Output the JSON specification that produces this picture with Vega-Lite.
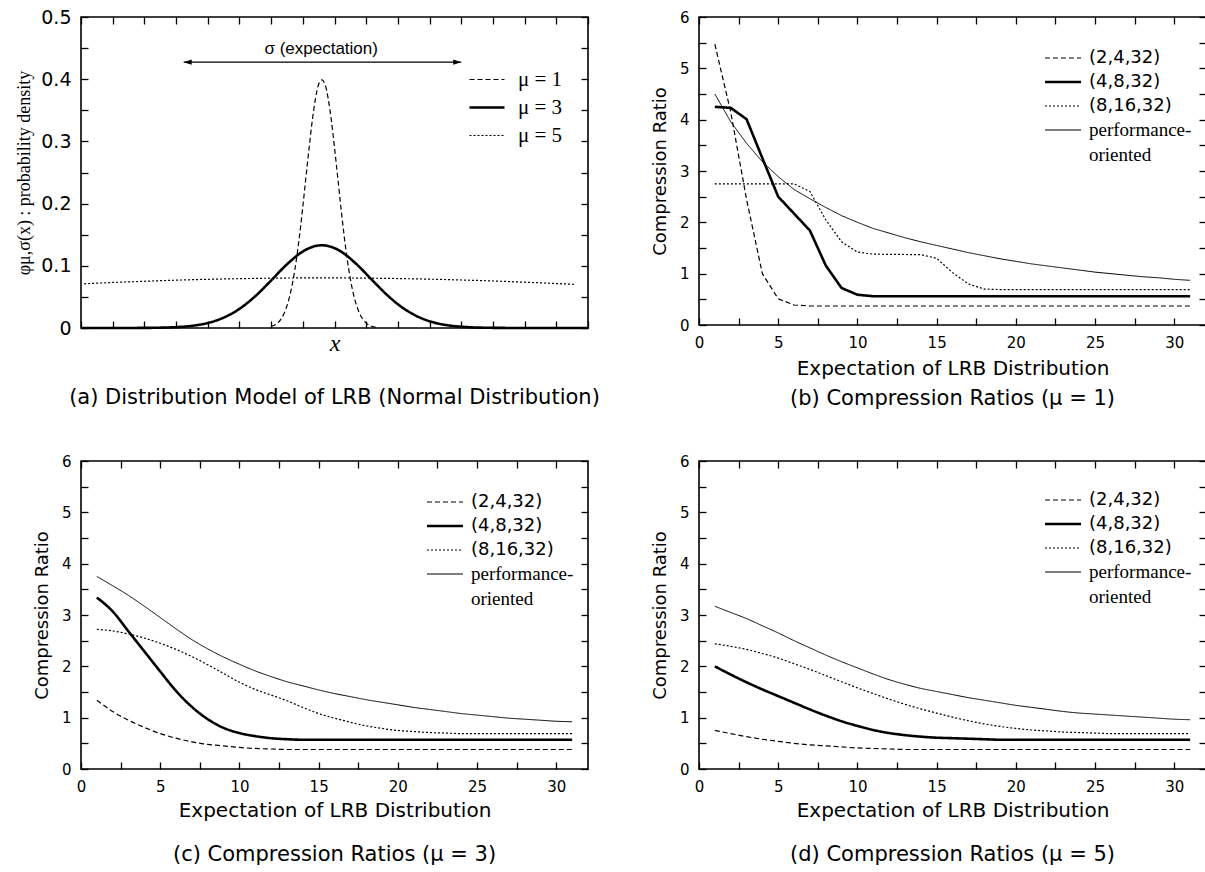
{
  "$schema": "https://vega.github.io/schema/vega-lite/v6.json",
  "background": "white",
  "padding": {"left": 14, "top": 7, "right": 2, "bottom": 2},
  "autosize": {"type": "pad"},
  "config": {
    "font": "DejaVu Sans",
    "view": {"stroke": "#000000", "strokeWidth": 1.6},
    "axis": {
      "domain": false, "grid": false, "tickSize": -7, "tickColor": "#000000", "tickWidth": 1.3, "zindex": 1,
      "labelColor": "#000000", "labelFont": "DejaVu Sans", "labelFontSize": 15, "labelPadding": 17,
      "labelFlush": false, "labelOverlap": false,
      "titleColor": "#000000", "titleFont": "DejaVu Sans", "titleFontWeight": "normal", "titleFontSize": 20
    },
    "legend": {"padding": 0, "labelColor": "#000000"},
    "title": {"font": "DejaVu Sans", "fontSize": 21, "fontWeight": "normal", "color": "#000000", "anchor": "middle"}
  },
  "datasets": {
    "pdf": [
      {"curve": "μ = 1", "x": 6.0, "density": 0.0024},
      {"curve": "μ = 1", "x": 6.1, "density": 0.0044},
      {"curve": "μ = 1", "x": 6.2, "density": 0.0079},
      {"curve": "μ = 1", "x": 6.3, "density": 0.0136},
      {"curve": "μ = 1", "x": 6.4, "density": 0.0225},
      {"curve": "μ = 1", "x": 6.5, "density": 0.0356},
      {"curve": "μ = 1", "x": 6.6, "density": 0.054},
      {"curve": "μ = 1", "x": 6.7, "density": 0.079},
      {"curve": "μ = 1", "x": 6.8, "density": 0.111},
      {"curve": "μ = 1", "x": 6.9, "density": 0.150},
      {"curve": "μ = 1", "x": 7.0, "density": 0.195},
      {"curve": "μ = 1", "x": 7.1, "density": 0.243},
      {"curve": "μ = 1", "x": 7.2, "density": 0.290},
      {"curve": "μ = 1", "x": 7.3, "density": 0.334},
      {"curve": "μ = 1", "x": 7.4, "density": 0.369},
      {"curve": "μ = 1", "x": 7.5, "density": 0.392},
      {"curve": "μ = 1", "x": 7.6, "density": 0.399},
      {"curve": "μ = 1", "x": 7.7, "density": 0.392},
      {"curve": "μ = 1", "x": 7.8, "density": 0.369},
      {"curve": "μ = 1", "x": 7.9, "density": 0.334},
      {"curve": "μ = 1", "x": 8.0, "density": 0.290},
      {"curve": "μ = 1", "x": 8.1, "density": 0.243},
      {"curve": "μ = 1", "x": 8.2, "density": 0.195},
      {"curve": "μ = 1", "x": 8.3, "density": 0.150},
      {"curve": "μ = 1", "x": 8.4, "density": 0.111},
      {"curve": "μ = 1", "x": 8.5, "density": 0.079},
      {"curve": "μ = 1", "x": 8.6, "density": 0.054},
      {"curve": "μ = 1", "x": 8.7, "density": 0.0356},
      {"curve": "μ = 1", "x": 8.8, "density": 0.0225},
      {"curve": "μ = 1", "x": 8.9, "density": 0.0136},
      {"curve": "μ = 1", "x": 9.0, "density": 0.0079},
      {"curve": "μ = 1", "x": 9.1, "density": 0.0044},
      {"curve": "μ = 1", "x": 9.2, "density": 0.0024},
      {"curve": "μ = 1", "x": 9.3, "density": 0.0012},
      {"curve": "μ = 3", "x": 0, "density": 0},
      {"curve": "μ = 3", "x": 1, "density": 0},
      {"curve": "μ = 3", "x": 2, "density": 0.0002},
      {"curve": "μ = 3", "x": 2.5, "density": 0.0005},
      {"curve": "μ = 3", "x": 3, "density": 0.0014},
      {"curve": "μ = 3", "x": 3.5, "density": 0.0035},
      {"curve": "μ = 3", "x": 4, "density": 0.008},
      {"curve": "μ = 3", "x": 4.5, "density": 0.0166},
      {"curve": "μ = 3", "x": 5, "density": 0.0308},
      {"curve": "μ = 3", "x": 5.5, "density": 0.0512},
      {"curve": "μ = 3", "x": 6, "density": 0.0764},
      {"curve": "μ = 3", "x": 6.5, "density": 0.1024},
      {"curve": "μ = 3", "x": 7, "density": 0.123},
      {"curve": "μ = 3", "x": 7.3, "density": 0.1304},
      {"curve": "μ = 3", "x": 7.6, "density": 0.133},
      {"curve": "μ = 3", "x": 7.9, "density": 0.1304},
      {"curve": "μ = 3", "x": 8.2, "density": 0.123},
      {"curve": "μ = 3", "x": 8.7, "density": 0.1024},
      {"curve": "μ = 3", "x": 9.2, "density": 0.0764},
      {"curve": "μ = 3", "x": 9.7, "density": 0.0512},
      {"curve": "μ = 3", "x": 10.2, "density": 0.0308},
      {"curve": "μ = 3", "x": 10.7, "density": 0.0166},
      {"curve": "μ = 3", "x": 11.2, "density": 0.008},
      {"curve": "μ = 3", "x": 11.7, "density": 0.0035},
      {"curve": "μ = 3", "x": 12.2, "density": 0.0014},
      {"curve": "μ = 3", "x": 12.7, "density": 0.0005},
      {"curve": "μ = 3", "x": 13.2, "density": 0.0002},
      {"curve": "μ = 3", "x": 14, "density": 0},
      {"curve": "μ = 3", "x": 16, "density": 0},
      {"curve": "μ = 5", "x": 0.1, "density": 0.0711},
      {"curve": "μ = 5", "x": 1, "density": 0.0732},
      {"curve": "μ = 5", "x": 2, "density": 0.0751},
      {"curve": "μ = 5", "x": 3, "density": 0.0769},
      {"curve": "μ = 5", "x": 4, "density": 0.0783},
      {"curve": "μ = 5", "x": 5, "density": 0.0793},
      {"curve": "μ = 5", "x": 6, "density": 0.0801},
      {"curve": "μ = 5", "x": 7, "density": 0.0805},
      {"curve": "μ = 5", "x": 7.6, "density": 0.0806},
      {"curve": "μ = 5", "x": 8, "density": 0.0805},
      {"curve": "μ = 5", "x": 9, "density": 0.0802},
      {"curve": "μ = 5", "x": 10, "density": 0.0795},
      {"curve": "μ = 5", "x": 11, "density": 0.0785},
      {"curve": "μ = 5", "x": 12, "density": 0.0772},
      {"curve": "μ = 5", "x": 13, "density": 0.0756},
      {"curve": "μ = 5", "x": 14, "density": 0.0736},
      {"curve": "μ = 5", "x": 15, "density": 0.0715},
      {"curve": "μ = 5", "x": 15.6, "density": 0.0701}
    ],
    "ratios": [
      {"mu": 1, "scheme": "(2,4,32)", "lrb": 1, "ratio": 5.47},
      {"mu": 1, "scheme": "(2,4,32)", "lrb": 2, "ratio": 4.15},
      {"mu": 1, "scheme": "(2,4,32)", "lrb": 3, "ratio": 2.45},
      {"mu": 1, "scheme": "(2,4,32)", "lrb": 4, "ratio": 1.0},
      {"mu": 1, "scheme": "(2,4,32)", "lrb": 5, "ratio": 0.51},
      {"mu": 1, "scheme": "(2,4,32)", "lrb": 6, "ratio": 0.39},
      {"mu": 1, "scheme": "(2,4,32)", "lrb": 7, "ratio": 0.37},
      {"mu": 1, "scheme": "(2,4,32)", "lrb": 31, "ratio": 0.37},
      {"mu": 1, "scheme": "(4,8,32)", "lrb": 1, "ratio": 4.25},
      {"mu": 1, "scheme": "(4,8,32)", "lrb": 2, "ratio": 4.23},
      {"mu": 1, "scheme": "(4,8,32)", "lrb": 3, "ratio": 4.01},
      {"mu": 1, "scheme": "(4,8,32)", "lrb": 4, "ratio": 3.25},
      {"mu": 1, "scheme": "(4,8,32)", "lrb": 5, "ratio": 2.5},
      {"mu": 1, "scheme": "(4,8,32)", "lrb": 6, "ratio": 2.17},
      {"mu": 1, "scheme": "(4,8,32)", "lrb": 7, "ratio": 1.84},
      {"mu": 1, "scheme": "(4,8,32)", "lrb": 8, "ratio": 1.16},
      {"mu": 1, "scheme": "(4,8,32)", "lrb": 9, "ratio": 0.72},
      {"mu": 1, "scheme": "(4,8,32)", "lrb": 10, "ratio": 0.59},
      {"mu": 1, "scheme": "(4,8,32)", "lrb": 11, "ratio": 0.56},
      {"mu": 1, "scheme": "(4,8,32)", "lrb": 31, "ratio": 0.56},
      {"mu": 1, "scheme": "(8,16,32)", "lrb": 1, "ratio": 2.75},
      {"mu": 1, "scheme": "(8,16,32)", "lrb": 6, "ratio": 2.75},
      {"mu": 1, "scheme": "(8,16,32)", "lrb": 7, "ratio": 2.6},
      {"mu": 1, "scheme": "(8,16,32)", "lrb": 8, "ratio": 2.05},
      {"mu": 1, "scheme": "(8,16,32)", "lrb": 9, "ratio": 1.62},
      {"mu": 1, "scheme": "(8,16,32)", "lrb": 10, "ratio": 1.42},
      {"mu": 1, "scheme": "(8,16,32)", "lrb": 11, "ratio": 1.38},
      {"mu": 1, "scheme": "(8,16,32)", "lrb": 14, "ratio": 1.37},
      {"mu": 1, "scheme": "(8,16,32)", "lrb": 15, "ratio": 1.3},
      {"mu": 1, "scheme": "(8,16,32)", "lrb": 16, "ratio": 1.02},
      {"mu": 1, "scheme": "(8,16,32)", "lrb": 17, "ratio": 0.8},
      {"mu": 1, "scheme": "(8,16,32)", "lrb": 18, "ratio": 0.7},
      {"mu": 1, "scheme": "(8,16,32)", "lrb": 19, "ratio": 0.69},
      {"mu": 1, "scheme": "(8,16,32)", "lrb": 31, "ratio": 0.69},
      {"mu": 1, "scheme": "performance-oriented", "lrb": 1, "ratio": 4.5},
      {"mu": 1, "scheme": "performance-oriented", "lrb": 2, "ratio": 3.96},
      {"mu": 1, "scheme": "performance-oriented", "lrb": 3, "ratio": 3.54},
      {"mu": 1, "scheme": "performance-oriented", "lrb": 4, "ratio": 3.18},
      {"mu": 1, "scheme": "performance-oriented", "lrb": 5, "ratio": 2.89},
      {"mu": 1, "scheme": "performance-oriented", "lrb": 6, "ratio": 2.64},
      {"mu": 1, "scheme": "performance-oriented", "lrb": 7, "ratio": 2.46},
      {"mu": 1, "scheme": "performance-oriented", "lrb": 8, "ratio": 2.29},
      {"mu": 1, "scheme": "performance-oriented", "lrb": 9, "ratio": 2.13},
      {"mu": 1, "scheme": "performance-oriented", "lrb": 10, "ratio": 2.0},
      {"mu": 1, "scheme": "performance-oriented", "lrb": 11, "ratio": 1.88},
      {"mu": 1, "scheme": "performance-oriented", "lrb": 12, "ratio": 1.79},
      {"mu": 1, "scheme": "performance-oriented", "lrb": 13, "ratio": 1.7},
      {"mu": 1, "scheme": "performance-oriented", "lrb": 14, "ratio": 1.62},
      {"mu": 1, "scheme": "performance-oriented", "lrb": 15, "ratio": 1.55},
      {"mu": 1, "scheme": "performance-oriented", "lrb": 16, "ratio": 1.48},
      {"mu": 1, "scheme": "performance-oriented", "lrb": 17, "ratio": 1.41},
      {"mu": 1, "scheme": "performance-oriented", "lrb": 18, "ratio": 1.35},
      {"mu": 1, "scheme": "performance-oriented", "lrb": 19, "ratio": 1.29},
      {"mu": 1, "scheme": "performance-oriented", "lrb": 20, "ratio": 1.24},
      {"mu": 1, "scheme": "performance-oriented", "lrb": 21, "ratio": 1.19},
      {"mu": 1, "scheme": "performance-oriented", "lrb": 22, "ratio": 1.15},
      {"mu": 1, "scheme": "performance-oriented", "lrb": 23, "ratio": 1.11},
      {"mu": 1, "scheme": "performance-oriented", "lrb": 24, "ratio": 1.07},
      {"mu": 1, "scheme": "performance-oriented", "lrb": 25, "ratio": 1.03},
      {"mu": 1, "scheme": "performance-oriented", "lrb": 26, "ratio": 1.0},
      {"mu": 1, "scheme": "performance-oriented", "lrb": 27, "ratio": 0.97},
      {"mu": 1, "scheme": "performance-oriented", "lrb": 28, "ratio": 0.94},
      {"mu": 1, "scheme": "performance-oriented", "lrb": 29, "ratio": 0.92},
      {"mu": 1, "scheme": "performance-oriented", "lrb": 30, "ratio": 0.89},
      {"mu": 1, "scheme": "performance-oriented", "lrb": 31, "ratio": 0.87},

      {"mu": 3, "scheme": "(2,4,32)", "lrb": 1, "ratio": 1.34},
      {"mu": 3, "scheme": "(2,4,32)", "lrb": 2, "ratio": 1.12},
      {"mu": 3, "scheme": "(2,4,32)", "lrb": 3, "ratio": 0.95},
      {"mu": 3, "scheme": "(2,4,32)", "lrb": 4, "ratio": 0.81},
      {"mu": 3, "scheme": "(2,4,32)", "lrb": 5, "ratio": 0.69},
      {"mu": 3, "scheme": "(2,4,32)", "lrb": 6, "ratio": 0.6},
      {"mu": 3, "scheme": "(2,4,32)", "lrb": 7, "ratio": 0.53},
      {"mu": 3, "scheme": "(2,4,32)", "lrb": 8, "ratio": 0.48},
      {"mu": 3, "scheme": "(2,4,32)", "lrb": 9, "ratio": 0.45},
      {"mu": 3, "scheme": "(2,4,32)", "lrb": 10, "ratio": 0.42},
      {"mu": 3, "scheme": "(2,4,32)", "lrb": 11, "ratio": 0.4},
      {"mu": 3, "scheme": "(2,4,32)", "lrb": 12, "ratio": 0.39},
      {"mu": 3, "scheme": "(2,4,32)", "lrb": 13, "ratio": 0.38},
      {"mu": 3, "scheme": "(2,4,32)", "lrb": 31, "ratio": 0.38},
      {"mu": 3, "scheme": "(4,8,32)", "lrb": 1, "ratio": 3.34},
      {"mu": 3, "scheme": "(4,8,32)", "lrb": 2, "ratio": 3.07},
      {"mu": 3, "scheme": "(4,8,32)", "lrb": 3, "ratio": 2.68},
      {"mu": 3, "scheme": "(4,8,32)", "lrb": 4, "ratio": 2.29},
      {"mu": 3, "scheme": "(4,8,32)", "lrb": 5, "ratio": 1.9},
      {"mu": 3, "scheme": "(4,8,32)", "lrb": 6, "ratio": 1.52},
      {"mu": 3, "scheme": "(4,8,32)", "lrb": 7, "ratio": 1.21},
      {"mu": 3, "scheme": "(4,8,32)", "lrb": 8, "ratio": 0.97},
      {"mu": 3, "scheme": "(4,8,32)", "lrb": 9, "ratio": 0.8},
      {"mu": 3, "scheme": "(4,8,32)", "lrb": 10, "ratio": 0.7},
      {"mu": 3, "scheme": "(4,8,32)", "lrb": 11, "ratio": 0.64},
      {"mu": 3, "scheme": "(4,8,32)", "lrb": 12, "ratio": 0.6},
      {"mu": 3, "scheme": "(4,8,32)", "lrb": 13, "ratio": 0.58},
      {"mu": 3, "scheme": "(4,8,32)", "lrb": 14, "ratio": 0.57},
      {"mu": 3, "scheme": "(4,8,32)", "lrb": 31, "ratio": 0.57},
      {"mu": 3, "scheme": "(8,16,32)", "lrb": 1, "ratio": 2.72},
      {"mu": 3, "scheme": "(8,16,32)", "lrb": 2, "ratio": 2.69},
      {"mu": 3, "scheme": "(8,16,32)", "lrb": 3, "ratio": 2.63},
      {"mu": 3, "scheme": "(8,16,32)", "lrb": 4, "ratio": 2.55},
      {"mu": 3, "scheme": "(8,16,32)", "lrb": 5, "ratio": 2.45},
      {"mu": 3, "scheme": "(8,16,32)", "lrb": 6, "ratio": 2.33},
      {"mu": 3, "scheme": "(8,16,32)", "lrb": 7, "ratio": 2.19},
      {"mu": 3, "scheme": "(8,16,32)", "lrb": 8, "ratio": 2.03},
      {"mu": 3, "scheme": "(8,16,32)", "lrb": 9, "ratio": 1.86},
      {"mu": 3, "scheme": "(8,16,32)", "lrb": 10, "ratio": 1.69},
      {"mu": 3, "scheme": "(8,16,32)", "lrb": 11, "ratio": 1.55},
      {"mu": 3, "scheme": "(8,16,32)", "lrb": 12, "ratio": 1.44},
      {"mu": 3, "scheme": "(8,16,32)", "lrb": 13, "ratio": 1.33},
      {"mu": 3, "scheme": "(8,16,32)", "lrb": 14, "ratio": 1.2},
      {"mu": 3, "scheme": "(8,16,32)", "lrb": 15, "ratio": 1.08},
      {"mu": 3, "scheme": "(8,16,32)", "lrb": 16, "ratio": 0.99},
      {"mu": 3, "scheme": "(8,16,32)", "lrb": 17, "ratio": 0.91},
      {"mu": 3, "scheme": "(8,16,32)", "lrb": 18, "ratio": 0.84},
      {"mu": 3, "scheme": "(8,16,32)", "lrb": 19, "ratio": 0.79},
      {"mu": 3, "scheme": "(8,16,32)", "lrb": 20, "ratio": 0.75},
      {"mu": 3, "scheme": "(8,16,32)", "lrb": 21, "ratio": 0.73},
      {"mu": 3, "scheme": "(8,16,32)", "lrb": 22, "ratio": 0.71},
      {"mu": 3, "scheme": "(8,16,32)", "lrb": 23, "ratio": 0.7},
      {"mu": 3, "scheme": "(8,16,32)", "lrb": 24, "ratio": 0.69},
      {"mu": 3, "scheme": "(8,16,32)", "lrb": 31, "ratio": 0.69},
      {"mu": 3, "scheme": "performance-oriented", "lrb": 1, "ratio": 3.75},
      {"mu": 3, "scheme": "performance-oriented", "lrb": 2, "ratio": 3.57},
      {"mu": 3, "scheme": "performance-oriented", "lrb": 3, "ratio": 3.38},
      {"mu": 3, "scheme": "performance-oriented", "lrb": 4, "ratio": 3.17},
      {"mu": 3, "scheme": "performance-oriented", "lrb": 5, "ratio": 2.95},
      {"mu": 3, "scheme": "performance-oriented", "lrb": 6, "ratio": 2.73},
      {"mu": 3, "scheme": "performance-oriented", "lrb": 7, "ratio": 2.52},
      {"mu": 3, "scheme": "performance-oriented", "lrb": 8, "ratio": 2.34},
      {"mu": 3, "scheme": "performance-oriented", "lrb": 9, "ratio": 2.18},
      {"mu": 3, "scheme": "performance-oriented", "lrb": 10, "ratio": 2.04},
      {"mu": 3, "scheme": "performance-oriented", "lrb": 11, "ratio": 1.91},
      {"mu": 3, "scheme": "performance-oriented", "lrb": 12, "ratio": 1.8},
      {"mu": 3, "scheme": "performance-oriented", "lrb": 13, "ratio": 1.7},
      {"mu": 3, "scheme": "performance-oriented", "lrb": 14, "ratio": 1.62},
      {"mu": 3, "scheme": "performance-oriented", "lrb": 15, "ratio": 1.54},
      {"mu": 3, "scheme": "performance-oriented", "lrb": 16, "ratio": 1.47},
      {"mu": 3, "scheme": "performance-oriented", "lrb": 17, "ratio": 1.41},
      {"mu": 3, "scheme": "performance-oriented", "lrb": 18, "ratio": 1.35},
      {"mu": 3, "scheme": "performance-oriented", "lrb": 19, "ratio": 1.3},
      {"mu": 3, "scheme": "performance-oriented", "lrb": 20, "ratio": 1.25},
      {"mu": 3, "scheme": "performance-oriented", "lrb": 21, "ratio": 1.2},
      {"mu": 3, "scheme": "performance-oriented", "lrb": 22, "ratio": 1.16},
      {"mu": 3, "scheme": "performance-oriented", "lrb": 23, "ratio": 1.12},
      {"mu": 3, "scheme": "performance-oriented", "lrb": 24, "ratio": 1.08},
      {"mu": 3, "scheme": "performance-oriented", "lrb": 25, "ratio": 1.05},
      {"mu": 3, "scheme": "performance-oriented", "lrb": 26, "ratio": 1.02},
      {"mu": 3, "scheme": "performance-oriented", "lrb": 27, "ratio": 0.99},
      {"mu": 3, "scheme": "performance-oriented", "lrb": 28, "ratio": 0.97},
      {"mu": 3, "scheme": "performance-oriented", "lrb": 29, "ratio": 0.95},
      {"mu": 3, "scheme": "performance-oriented", "lrb": 30, "ratio": 0.93},
      {"mu": 3, "scheme": "performance-oriented", "lrb": 31, "ratio": 0.92},

      {"mu": 5, "scheme": "(2,4,32)", "lrb": 1, "ratio": 0.75},
      {"mu": 5, "scheme": "(2,4,32)", "lrb": 2, "ratio": 0.69},
      {"mu": 5, "scheme": "(2,4,32)", "lrb": 3, "ratio": 0.63},
      {"mu": 5, "scheme": "(2,4,32)", "lrb": 4, "ratio": 0.58},
      {"mu": 5, "scheme": "(2,4,32)", "lrb": 5, "ratio": 0.54},
      {"mu": 5, "scheme": "(2,4,32)", "lrb": 6, "ratio": 0.5},
      {"mu": 5, "scheme": "(2,4,32)", "lrb": 7, "ratio": 0.47},
      {"mu": 5, "scheme": "(2,4,32)", "lrb": 8, "ratio": 0.45},
      {"mu": 5, "scheme": "(2,4,32)", "lrb": 9, "ratio": 0.43},
      {"mu": 5, "scheme": "(2,4,32)", "lrb": 10, "ratio": 0.41},
      {"mu": 5, "scheme": "(2,4,32)", "lrb": 11, "ratio": 0.4},
      {"mu": 5, "scheme": "(2,4,32)", "lrb": 12, "ratio": 0.39},
      {"mu": 5, "scheme": "(2,4,32)", "lrb": 13, "ratio": 0.38},
      {"mu": 5, "scheme": "(2,4,32)", "lrb": 31, "ratio": 0.38},
      {"mu": 5, "scheme": "(4,8,32)", "lrb": 1, "ratio": 2.0},
      {"mu": 5, "scheme": "(4,8,32)", "lrb": 2, "ratio": 1.84},
      {"mu": 5, "scheme": "(4,8,32)", "lrb": 3, "ratio": 1.69},
      {"mu": 5, "scheme": "(4,8,32)", "lrb": 4, "ratio": 1.55},
      {"mu": 5, "scheme": "(4,8,32)", "lrb": 5, "ratio": 1.42},
      {"mu": 5, "scheme": "(4,8,32)", "lrb": 6, "ratio": 1.29},
      {"mu": 5, "scheme": "(4,8,32)", "lrb": 7, "ratio": 1.16},
      {"mu": 5, "scheme": "(4,8,32)", "lrb": 8, "ratio": 1.04},
      {"mu": 5, "scheme": "(4,8,32)", "lrb": 9, "ratio": 0.93},
      {"mu": 5, "scheme": "(4,8,32)", "lrb": 10, "ratio": 0.84},
      {"mu": 5, "scheme": "(4,8,32)", "lrb": 11, "ratio": 0.76},
      {"mu": 5, "scheme": "(4,8,32)", "lrb": 12, "ratio": 0.7},
      {"mu": 5, "scheme": "(4,8,32)", "lrb": 13, "ratio": 0.66},
      {"mu": 5, "scheme": "(4,8,32)", "lrb": 14, "ratio": 0.63},
      {"mu": 5, "scheme": "(4,8,32)", "lrb": 15, "ratio": 0.61},
      {"mu": 5, "scheme": "(4,8,32)", "lrb": 16, "ratio": 0.6},
      {"mu": 5, "scheme": "(4,8,32)", "lrb": 17, "ratio": 0.59},
      {"mu": 5, "scheme": "(4,8,32)", "lrb": 18, "ratio": 0.58},
      {"mu": 5, "scheme": "(4,8,32)", "lrb": 19, "ratio": 0.57},
      {"mu": 5, "scheme": "(4,8,32)", "lrb": 31, "ratio": 0.57},
      {"mu": 5, "scheme": "(8,16,32)", "lrb": 1, "ratio": 2.44},
      {"mu": 5, "scheme": "(8,16,32)", "lrb": 2, "ratio": 2.39},
      {"mu": 5, "scheme": "(8,16,32)", "lrb": 3, "ratio": 2.33},
      {"mu": 5, "scheme": "(8,16,32)", "lrb": 4, "ratio": 2.25},
      {"mu": 5, "scheme": "(8,16,32)", "lrb": 5, "ratio": 2.16},
      {"mu": 5, "scheme": "(8,16,32)", "lrb": 6, "ratio": 2.05},
      {"mu": 5, "scheme": "(8,16,32)", "lrb": 7, "ratio": 1.94},
      {"mu": 5, "scheme": "(8,16,32)", "lrb": 8, "ratio": 1.82},
      {"mu": 5, "scheme": "(8,16,32)", "lrb": 9, "ratio": 1.7},
      {"mu": 5, "scheme": "(8,16,32)", "lrb": 10, "ratio": 1.58},
      {"mu": 5, "scheme": "(8,16,32)", "lrb": 11, "ratio": 1.47},
      {"mu": 5, "scheme": "(8,16,32)", "lrb": 12, "ratio": 1.36},
      {"mu": 5, "scheme": "(8,16,32)", "lrb": 13, "ratio": 1.26},
      {"mu": 5, "scheme": "(8,16,32)", "lrb": 14, "ratio": 1.17},
      {"mu": 5, "scheme": "(8,16,32)", "lrb": 15, "ratio": 1.09},
      {"mu": 5, "scheme": "(8,16,32)", "lrb": 16, "ratio": 1.01},
      {"mu": 5, "scheme": "(8,16,32)", "lrb": 17, "ratio": 0.94},
      {"mu": 5, "scheme": "(8,16,32)", "lrb": 18, "ratio": 0.88},
      {"mu": 5, "scheme": "(8,16,32)", "lrb": 19, "ratio": 0.83},
      {"mu": 5, "scheme": "(8,16,32)", "lrb": 20, "ratio": 0.79},
      {"mu": 5, "scheme": "(8,16,32)", "lrb": 21, "ratio": 0.76},
      {"mu": 5, "scheme": "(8,16,32)", "lrb": 22, "ratio": 0.74},
      {"mu": 5, "scheme": "(8,16,32)", "lrb": 23, "ratio": 0.72},
      {"mu": 5, "scheme": "(8,16,32)", "lrb": 24, "ratio": 0.71},
      {"mu": 5, "scheme": "(8,16,32)", "lrb": 25, "ratio": 0.7},
      {"mu": 5, "scheme": "(8,16,32)", "lrb": 26, "ratio": 0.69},
      {"mu": 5, "scheme": "(8,16,32)", "lrb": 31, "ratio": 0.69},
      {"mu": 5, "scheme": "performance-oriented", "lrb": 1, "ratio": 3.17},
      {"mu": 5, "scheme": "performance-oriented", "lrb": 2, "ratio": 3.05},
      {"mu": 5, "scheme": "performance-oriented", "lrb": 3, "ratio": 2.93},
      {"mu": 5, "scheme": "performance-oriented", "lrb": 4, "ratio": 2.79},
      {"mu": 5, "scheme": "performance-oriented", "lrb": 5, "ratio": 2.65},
      {"mu": 5, "scheme": "performance-oriented", "lrb": 6, "ratio": 2.5},
      {"mu": 5, "scheme": "performance-oriented", "lrb": 7, "ratio": 2.36},
      {"mu": 5, "scheme": "performance-oriented", "lrb": 8, "ratio": 2.22},
      {"mu": 5, "scheme": "performance-oriented", "lrb": 9, "ratio": 2.09},
      {"mu": 5, "scheme": "performance-oriented", "lrb": 10, "ratio": 1.97},
      {"mu": 5, "scheme": "performance-oriented", "lrb": 11, "ratio": 1.85},
      {"mu": 5, "scheme": "performance-oriented", "lrb": 12, "ratio": 1.74},
      {"mu": 5, "scheme": "performance-oriented", "lrb": 13, "ratio": 1.65},
      {"mu": 5, "scheme": "performance-oriented", "lrb": 14, "ratio": 1.57},
      {"mu": 5, "scheme": "performance-oriented", "lrb": 15, "ratio": 1.51},
      {"mu": 5, "scheme": "performance-oriented", "lrb": 16, "ratio": 1.45},
      {"mu": 5, "scheme": "performance-oriented", "lrb": 17, "ratio": 1.39},
      {"mu": 5, "scheme": "performance-oriented", "lrb": 18, "ratio": 1.34},
      {"mu": 5, "scheme": "performance-oriented", "lrb": 19, "ratio": 1.29},
      {"mu": 5, "scheme": "performance-oriented", "lrb": 20, "ratio": 1.24},
      {"mu": 5, "scheme": "performance-oriented", "lrb": 21, "ratio": 1.2},
      {"mu": 5, "scheme": "performance-oriented", "lrb": 22, "ratio": 1.16},
      {"mu": 5, "scheme": "performance-oriented", "lrb": 23, "ratio": 1.12},
      {"mu": 5, "scheme": "performance-oriented", "lrb": 24, "ratio": 1.09},
      {"mu": 5, "scheme": "performance-oriented", "lrb": 25, "ratio": 1.07},
      {"mu": 5, "scheme": "performance-oriented", "lrb": 26, "ratio": 1.05},
      {"mu": 5, "scheme": "performance-oriented", "lrb": 27, "ratio": 1.03},
      {"mu": 5, "scheme": "performance-oriented", "lrb": 28, "ratio": 1.01},
      {"mu": 5, "scheme": "performance-oriented", "lrb": 29, "ratio": 0.99},
      {"mu": 5, "scheme": "performance-oriented", "lrb": 30, "ratio": 0.97},
      {"mu": 5, "scheme": "performance-oriented", "lrb": 31, "ratio": 0.96}
    ]
  },
  "columns": 2,
  "spacing": {"row": 43, "column": 49},
  "resolve": {
    "scale": {"x": "independent", "y": "independent", "strokeDash": "independent", "strokeWidth": "independent", "shape": "independent"},
    "legend": {"strokeDash": "independent", "strokeWidth": "independent", "shape": "independent"}
  },
  "concat": [
    {
      "width": 507, "height": 311,
      "title": {"text": "(a) Distribution Model of LRB (Normal Distribution)", "orient": "bottom", "offset": 31},
      "layer": [
        {
          "data": {"name": "pdf"},
          "mark": {"type": "line", "color": "#000000", "interpolate": "monotone"},
          "encoding": {
            "x": {"field": "x", "type": "quantitative", "scale": {"domain": [0, 16], "nice": false},
              "axis": {"orient": "bottom", "values": [0,1,2,3,4,5,6,7,8,9,10,11,12,13,14,15,16], "labels": false,
                "title": "x", "titleFont": "Liberation Serif", "titleFontStyle": "italic", "titleFontSize": 24, "titlePadding": 3}},
            "y": {"field": "density", "type": "quantitative", "scale": {"domain": [0, 0.5], "nice": false},
              "axis": {"orient": "left", "values": [0,0.05,0.1,0.15,0.2,0.25,0.3,0.35,0.4,0.45,0.5],
                "labelExpr": "abs(datum.value * 10 - round(datum.value * 10)) < 0.001 ? format(datum.value, '.1~f') : ''",
                "labelFontSize": 19, "title": "φμ,σ(x) : probability density", "titleFont": "Liberation Serif", "titleFontSize": 18, "titlePadding": 7}},
            "strokeDash": {"field": "curve", "type": "nominal",
              "scale": {"domain": ["μ = 1", "μ = 3", "μ = 5"], "range": [[5, 3], [1, 0], [2, 2]]},
              "legend": {"orient": "none", "legendX": 383, "legendY": 52, "title": null, "symbolType": "M-1,0H6", "symbolSize": 100,
                "symbolStrokeColor": "#000000", "labelOffset": 33, "labelFont": "Liberation Serif", "labelFontSize": 21, "rowPadding": 6}},
            "strokeWidth": {"field": "curve", "type": "nominal",
              "scale": {"type": "ordinal", "domain": ["μ = 1", "μ = 3", "μ = 5"], "range": [1.2, 2.6, 1.2]},
              "legend": {"orient": "none", "legendX": 383, "legendY": 52, "title": null, "symbolType": "M-1,0H6", "symbolSize": 100,
                "symbolStrokeColor": "#000000", "labelOffset": 33, "labelFont": "Liberation Serif", "labelFontSize": 21, "rowPadding": 6}}
          }
        },
        {
          "data": {"name": "pdf"},
          "mark": {"type": "point", "opacity": 0},
          "encoding": {
            "x": {"field": "x", "type": "quantitative", "scale": {"domain": [0, 16], "nice": false},
              "axis": {"orient": "top", "values": [0,1,2,3,4,5,6,7,8,9,10,11,12,13,14,15,16], "labels": false, "title": null}},
            "y": {"field": "density", "type": "quantitative", "scale": {"domain": [0, 0.5], "nice": false},
              "axis": {"orient": "right", "values": [0,0.05,0.1,0.15,0.2,0.25,0.3,0.35,0.4,0.45,0.5], "labels": false, "title": null}}
          }
        },
        {
          "data": {"values": [{"from": 3.24, "to": 12.0, "level": 0.4274}]},
          "mark": {"type": "rule", "color": "#000000", "strokeWidth": 1.2},
          "encoding": {
            "x": {"field": "from", "type": "quantitative", "scale": {"domain": [0, 16], "nice": false}, "axis": null},
            "x2": {"field": "to"},
            "y": {"field": "level", "type": "quantitative", "scale": {"domain": [0, 0.5], "nice": false}, "axis": null}
          }
        },
        {
          "data": {"values": [{"tip": 3.24, "level": 0.4274, "side": "left"}, {"tip": 12.0, "level": 0.4274, "side": "right"}]},
          "mark": {"type": "point", "filled": true, "color": "#000000", "opacity": 1, "size": 64},
          "encoding": {
            "x": {"field": "tip", "type": "quantitative", "scale": {"domain": [0, 16], "nice": false}, "axis": null},
            "y": {"field": "level", "type": "quantitative", "scale": {"domain": [0, 0.5], "nice": false}, "axis": null},
            "shape": {"field": "side", "type": "nominal", "scale": {"domain": ["left", "right"], "range": ["M0,0L2,-0.65L2,0.65Z", "M0,0L-2,-0.65L-2,0.65Z"]}, "legend": null}
          }
        },
        {
          "data": {"values": [{"label": "σ (expectation)", "at": 7.58, "level": 0.448}]},
          "mark": {"type": "text", "font": "Liberation Sans", "fontSize": 17, "color": "#000000", "baseline": "middle", "align": "center"},
          "encoding": {
            "x": {"field": "at", "type": "quantitative", "scale": {"domain": [0, 16], "nice": false}, "axis": null},
            "y": {"field": "level", "type": "quantitative", "scale": {"domain": [0, 0.5], "nice": false}, "axis": null},
            "text": {"field": "label"}
          }
        }
      ],
      "resolve": {"axis": {"x": "independent", "y": "independent"}}
    },
    {
      "width": 507, "height": 308,
      "title": {"text": "(b) Compression Ratios (μ = 1)", "orient": "bottom", "offset": 10},
      "data": {"name": "ratios"},
      "transform": [{"filter": "datum.mu == 1"}],
      "layer": [
        {
          "mark": {"type": "line", "color": "#000000"},
          "encoding": {
            "x": {"field": "lrb", "type": "quantitative", "scale": {"domain": [0, 32], "nice": false},
              "axis": {"orient": "bottom", "values": [0,2.5,5,7.5,10,12.5,15,17.5,20,22.5,25,27.5,30],
                "labelExpr": "datum.value % 5 == 0 ? format(datum.value, 'd') : ''", "title": "Expectation of LRB Distribution", "titlePadding": 8}},
            "y": {"field": "ratio", "type": "quantitative", "scale": {"domain": [0, 6], "nice": false},
              "axis": {"orient": "left", "values": [0,0.5,1,1.5,2,2.5,3,3.5,4,4.5,5,5.5,6],
                "labelExpr": "datum.value % 1 == 0 ? format(datum.value, 'd') : ''", "title": "Compression Ratio", "titleFontSize": 18, "titlePadding": 10}},
            "strokeDash": {"field": "scheme", "type": "nominal",
              "scale": {"domain": ["(2,4,32)", "(4,8,32)", "(8,16,32)", "performance-oriented", "oriented"], "range": [[5, 3], [1, 0], [2, 2], [1, 0], [0, 100]]},
              "legend": {"orient": "none", "legendX": 342, "legendY": 32, "title": null, "symbolType": "M-1,0H6.2", "symbolSize": 100,
                "symbolStrokeColor": "#000000", "labelOffset": 30,
                "labelFont": {"expr": "datum.value == 'performance-oriented' || datum.value == 'oriented' ? 'Liberation Serif' : 'DejaVu Sans'"},
                "labelFontSize": {"expr": "datum.value == 'performance-oriented' || datum.value == 'oriented' ? 19 : 18"},
                "labelExpr": "datum.value == 'performance-oriented' ? 'performance-' : datum.label", "rowPadding": 6}},
            "strokeWidth": {"field": "scheme", "type": "nominal",
              "scale": {"type": "ordinal", "domain": ["(2,4,32)", "(4,8,32)", "(8,16,32)", "performance-oriented", "oriented"], "range": [1.2, 2.6, 1.2, 1, 0]},
              "legend": {"orient": "none", "legendX": 342, "legendY": 32, "title": null, "symbolType": "M-1,0H6.2", "symbolSize": 100,
                "symbolStrokeColor": "#000000", "labelOffset": 30,
                "labelFont": {"expr": "datum.value == 'performance-oriented' || datum.value == 'oriented' ? 'Liberation Serif' : 'DejaVu Sans'"},
                "labelFontSize": {"expr": "datum.value == 'performance-oriented' || datum.value == 'oriented' ? 19 : 18"},
                "labelExpr": "datum.value == 'performance-oriented' ? 'performance-' : datum.label", "rowPadding": 6}}
          }
        },
        {
          "mark": {"type": "point", "opacity": 0},
          "encoding": {
            "x": {"field": "lrb", "type": "quantitative", "scale": {"domain": [0, 32], "nice": false},
              "axis": {"orient": "top", "values": [0,2.5,5,7.5,10,12.5,15,17.5,20,22.5,25,27.5,30], "labels": false, "title": null}},
            "y": {"field": "ratio", "type": "quantitative", "scale": {"domain": [0, 6], "nice": false},
              "axis": {"orient": "right", "values": [0,0.5,1,1.5,2,2.5,3,3.5,4,4.5,5,5.5,6], "labels": false, "title": null}}
          }
        }
      ],
      "resolve": {"axis": {"x": "independent", "y": "independent"}}
    },
    {
      "width": 507, "height": 308,
      "title": {"text": "(c) Compression Ratios (μ = 3)", "orient": "bottom", "offset": 24},
      "data": {"name": "ratios"},
      "transform": [{"filter": "datum.mu == 3"}],
      "layer": [
        {
          "mark": {"type": "line", "color": "#000000", "interpolate": "monotone"},
          "encoding": {
            "x": {"field": "lrb", "type": "quantitative", "scale": {"domain": [0, 32], "nice": false},
              "axis": {"orient": "bottom", "values": [0,2.5,5,7.5,10,12.5,15,17.5,20,22.5,25,27.5,30],
                "labelExpr": "datum.value % 5 == 0 ? format(datum.value, 'd') : ''", "title": "Expectation of LRB Distribution", "titlePadding": 6}},
            "y": {"field": "ratio", "type": "quantitative", "scale": {"domain": [0, 6], "nice": false},
              "axis": {"orient": "left", "values": [0,0.5,1,1.5,2,2.5,3,3.5,4,4.5,5,5.5,6],
                "labelExpr": "datum.value % 1 == 0 ? format(datum.value, 'd') : ''", "title": "Compression Ratio", "titleFontSize": 18, "titlePadding": 10}},
            "strokeDash": {"field": "scheme", "type": "nominal",
              "scale": {"domain": ["(2,4,32)", "(4,8,32)", "(8,16,32)", "performance-oriented", "oriented"], "range": [[5, 3], [1, 0], [2, 2], [1, 0], [0, 100]]},
              "legend": {"orient": "none", "legendX": 342, "legendY": 32, "title": null, "symbolType": "M-1,0H6.2", "symbolSize": 100,
                "symbolStrokeColor": "#000000", "labelOffset": 30,
                "labelFont": {"expr": "datum.value == 'performance-oriented' || datum.value == 'oriented' ? 'Liberation Serif' : 'DejaVu Sans'"},
                "labelFontSize": {"expr": "datum.value == 'performance-oriented' || datum.value == 'oriented' ? 19 : 18"},
                "labelExpr": "datum.value == 'performance-oriented' ? 'performance-' : datum.label", "rowPadding": 6}},
            "strokeWidth": {"field": "scheme", "type": "nominal",
              "scale": {"type": "ordinal", "domain": ["(2,4,32)", "(4,8,32)", "(8,16,32)", "performance-oriented", "oriented"], "range": [1.2, 2.6, 1.2, 1, 0]},
              "legend": {"orient": "none", "legendX": 342, "legendY": 32, "title": null, "symbolType": "M-1,0H6.2", "symbolSize": 100,
                "symbolStrokeColor": "#000000", "labelOffset": 30,
                "labelFont": {"expr": "datum.value == 'performance-oriented' || datum.value == 'oriented' ? 'Liberation Serif' : 'DejaVu Sans'"},
                "labelFontSize": {"expr": "datum.value == 'performance-oriented' || datum.value == 'oriented' ? 19 : 18"},
                "labelExpr": "datum.value == 'performance-oriented' ? 'performance-' : datum.label", "rowPadding": 6}}
          }
        },
        {
          "mark": {"type": "point", "opacity": 0},
          "encoding": {
            "x": {"field": "lrb", "type": "quantitative", "scale": {"domain": [0, 32], "nice": false},
              "axis": {"orient": "top", "values": [0,2.5,5,7.5,10,12.5,15,17.5,20,22.5,25,27.5,30], "labels": false, "title": null}},
            "y": {"field": "ratio", "type": "quantitative", "scale": {"domain": [0, 6], "nice": false},
              "axis": {"orient": "right", "values": [0,0.5,1,1.5,2,2.5,3,3.5,4,4.5,5,5.5,6], "labels": false, "title": null}}
          }
        }
      ],
      "resolve": {"axis": {"x": "independent", "y": "independent"}}
    },
    {
      "width": 507, "height": 308,
      "title": {"text": "(d) Compression Ratios (μ = 5)", "orient": "bottom", "offset": 24},
      "data": {"name": "ratios"},
      "transform": [{"filter": "datum.mu == 5"}],
      "layer": [
        {
          "mark": {"type": "line", "color": "#000000", "interpolate": "monotone"},
          "encoding": {
            "x": {"field": "lrb", "type": "quantitative", "scale": {"domain": [0, 32], "nice": false},
              "axis": {"orient": "bottom", "values": [0,2.5,5,7.5,10,12.5,15,17.5,20,22.5,25,27.5,30],
                "labelExpr": "datum.value % 5 == 0 ? format(datum.value, 'd') : ''", "title": "Expectation of LRB Distribution", "titlePadding": 6}},
            "y": {"field": "ratio", "type": "quantitative", "scale": {"domain": [0, 6], "nice": false},
              "axis": {"orient": "left", "values": [0,0.5,1,1.5,2,2.5,3,3.5,4,4.5,5,5.5,6],
                "labelExpr": "datum.value % 1 == 0 ? format(datum.value, 'd') : ''", "title": "Compression Ratio", "titleFontSize": 18, "titlePadding": 10}},
            "strokeDash": {"field": "scheme", "type": "nominal",
              "scale": {"domain": ["(2,4,32)", "(4,8,32)", "(8,16,32)", "performance-oriented", "oriented"], "range": [[5, 3], [1, 0], [2, 2], [1, 0], [0, 100]]},
              "legend": {"orient": "none", "legendX": 342, "legendY": 30, "title": null, "symbolType": "M-1,0H6.2", "symbolSize": 100,
                "symbolStrokeColor": "#000000", "labelOffset": 30,
                "labelFont": {"expr": "datum.value == 'performance-oriented' || datum.value == 'oriented' ? 'Liberation Serif' : 'DejaVu Sans'"},
                "labelFontSize": {"expr": "datum.value == 'performance-oriented' || datum.value == 'oriented' ? 19 : 18"},
                "labelExpr": "datum.value == 'performance-oriented' ? 'performance-' : datum.label", "rowPadding": 6}},
            "strokeWidth": {"field": "scheme", "type": "nominal",
              "scale": {"type": "ordinal", "domain": ["(2,4,32)", "(4,8,32)", "(8,16,32)", "performance-oriented", "oriented"], "range": [1.2, 2.6, 1.2, 1, 0]},
              "legend": {"orient": "none", "legendX": 342, "legendY": 30, "title": null, "symbolType": "M-1,0H6.2", "symbolSize": 100,
                "symbolStrokeColor": "#000000", "labelOffset": 30,
                "labelFont": {"expr": "datum.value == 'performance-oriented' || datum.value == 'oriented' ? 'Liberation Serif' : 'DejaVu Sans'"},
                "labelFontSize": {"expr": "datum.value == 'performance-oriented' || datum.value == 'oriented' ? 19 : 18"},
                "labelExpr": "datum.value == 'performance-oriented' ? 'performance-' : datum.label", "rowPadding": 6}}
          }
        },
        {
          "mark": {"type": "point", "opacity": 0},
          "encoding": {
            "x": {"field": "lrb", "type": "quantitative", "scale": {"domain": [0, 32], "nice": false},
              "axis": {"orient": "top", "values": [0,2.5,5,7.5,10,12.5,15,17.5,20,22.5,25,27.5,30], "labels": false, "title": null}},
            "y": {"field": "ratio", "type": "quantitative", "scale": {"domain": [0, 6], "nice": false},
              "axis": {"orient": "right", "values": [0,0.5,1,1.5,2,2.5,3,3.5,4,4.5,5,5.5,6], "labels": false, "title": null}}
          }
        }
      ],
      "resolve": {"axis": {"x": "independent", "y": "independent"}}
    }
  ]
}
